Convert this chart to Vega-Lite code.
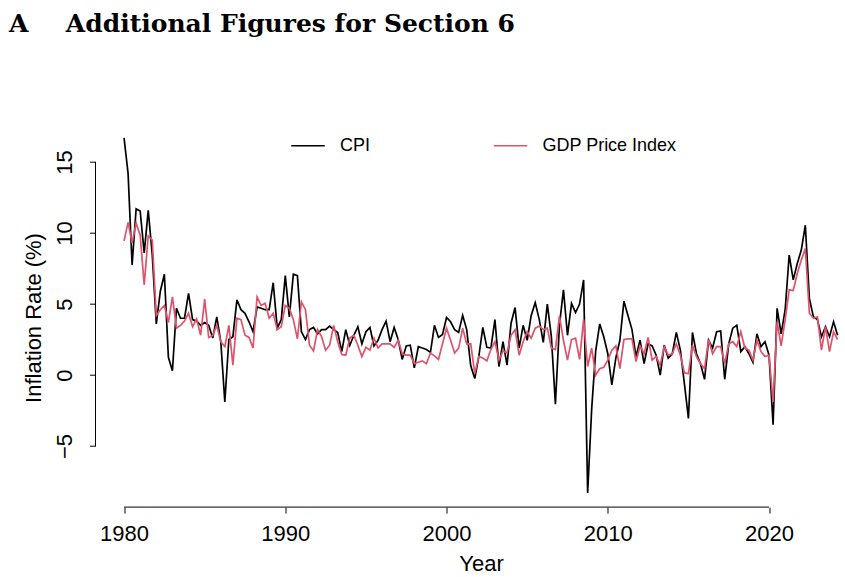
{
  "$schema": "https://vega.github.io/schema/vega-lite/v6.json",
  "width": 749.5,
  "height": 383.4,
  "autosize": {"type": "none"},
  "padding": {"left": 95.5, "top": 123.7, "right": 0, "bottom": 70},
  "background": "white",
  "title": {
    "text": "A\u2003\u2002Additional Figures for Section 6",
    "anchor": "start",
    "font": "DejaVu Serif",
    "fontSize": 25,
    "fontWeight": "bold",
    "color": "black",
    "baseline": "alphabetic",
    "dx": -13.5,
    "offset": 66.5
  },
  "config": {
    "view": {"stroke": null},
    "font": "Liberation Sans",
    "axisX": {
      "domain": false, "grid": false,
      "ticks": true, "tickSize": 6, "tickColor": "black", "tickWidth": 1,
      "labelFont": "Liberation Sans", "labelFontSize": 22, "labelColor": "black",
      "labelBaseline": "alphabetic", "labelPadding": 27, "labelFlush": false,
      "labelOverlap": false,
      "titleFont": "Liberation Sans", "titleFontSize": 22, "titleFontWeight": "normal",
      "titleColor": "black", "titleBaseline": "alphabetic", "titleAlign": "center",
      "titleX": 385.5, "titleY": 63
    },
    "axisY": {
      "domain": false, "grid": false,
      "ticks": true, "tickSize": 6, "tickColor": "black", "tickWidth": 1,
      "labelFont": "Liberation Sans", "labelFontSize": 22, "labelColor": "black",
      "labelAngle": -90, "labelAlign": "center", "labelBaseline": "alphabetic",
      "labelPadding": 18, "labelFlush": false, "labelOverlap": false,
      "titleFont": "Liberation Sans", "titleFontSize": 22, "titleFontWeight": "normal",
      "titleColor": "black", "titleAngle": -90, "titleBaseline": "alphabetic",
      "titleAlign": "center", "titleX": -55, "titleY": 193.8
    }
  },
  "data": {
    "values": [
      {"t": 1980.00, "CPI": 16.7, "GDP Price Index": 9.45},
      {"t": 1980.25, "CPI": 14.2, "GDP Price Index": 10.75},
      {"t": 1980.50, "CPI": 7.75, "GDP Price Index": 9.3},
      {"t": 1980.75, "CPI": 11.7, "GDP Price Index": 10.7},
      {"t": 1981.00, "CPI": 11.55, "GDP Price Index": 9.85},
      {"t": 1981.25, "CPI": 8.6, "GDP Price Index": 6.35},
      {"t": 1981.50, "CPI": 11.6, "GDP Price Index": 9.8},
      {"t": 1981.75, "CPI": 8.45, "GDP Price Index": 9.5},
      {"t": 1982.00, "CPI": 3.6, "GDP Price Index": 4.2},
      {"t": 1982.25, "CPI": 5.9, "GDP Price Index": 4.6},
      {"t": 1982.50, "CPI": 7.1, "GDP Price Index": 4.9},
      {"t": 1982.75, "CPI": 1.25, "GDP Price Index": 3.7},
      {"t": 1983.00, "CPI": 0.3, "GDP Price Index": 5.5},
      {"t": 1983.25, "CPI": 4.7, "GDP Price Index": 3.3},
      {"t": 1983.50, "CPI": 4.0, "GDP Price Index": 3.5},
      {"t": 1983.75, "CPI": 4.0, "GDP Price Index": 3.8},
      {"t": 1984.00, "CPI": 5.75, "GDP Price Index": 4.35},
      {"t": 1984.25, "CPI": 3.9, "GDP Price Index": 3.4},
      {"t": 1984.50, "CPI": 3.8, "GDP Price Index": 3.95},
      {"t": 1984.75, "CPI": 3.5, "GDP Price Index": 2.8},
      {"t": 1985.00, "CPI": 3.7, "GDP Price Index": 5.35},
      {"t": 1985.25, "CPI": 3.5, "GDP Price Index": 2.65},
      {"t": 1985.50, "CPI": 2.6, "GDP Price Index": 2.8},
      {"t": 1985.75, "CPI": 4.1, "GDP Price Index": 3.5},
      {"t": 1986.00, "CPI": 2.35, "GDP Price Index": 2.35},
      {"t": 1986.25, "CPI": -1.9, "GDP Price Index": 2.0},
      {"t": 1986.50, "CPI": 2.5, "GDP Price Index": 3.5},
      {"t": 1986.75, "CPI": 2.7, "GDP Price Index": 0.7},
      {"t": 1987.00, "CPI": 5.3, "GDP Price Index": 4.0},
      {"t": 1987.25, "CPI": 4.6, "GDP Price Index": 3.9},
      {"t": 1987.50, "CPI": 4.35, "GDP Price Index": 2.8},
      {"t": 1987.75, "CPI": 3.75, "GDP Price Index": 2.65},
      {"t": 1988.00, "CPI": 3.05, "GDP Price Index": 1.9},
      {"t": 1988.25, "CPI": 4.8, "GDP Price Index": 5.5},
      {"t": 1988.50, "CPI": 4.7, "GDP Price Index": 4.9},
      {"t": 1988.75, "CPI": 4.6, "GDP Price Index": 5.05},
      {"t": 1989.00, "CPI": 4.6, "GDP Price Index": 4.0},
      {"t": 1989.25, "CPI": 6.5, "GDP Price Index": 4.35},
      {"t": 1989.50, "CPI": 3.3, "GDP Price Index": 3.2},
      {"t": 1989.75, "CPI": 3.9, "GDP Price Index": 3.4},
      {"t": 1990.00, "CPI": 7.0, "GDP Price Index": 4.9},
      {"t": 1990.25, "CPI": 4.1, "GDP Price Index": 4.7},
      {"t": 1990.50, "CPI": 7.1, "GDP Price Index": 3.9},
      {"t": 1990.75, "CPI": 7.0, "GDP Price Index": 2.55},
      {"t": 1991.00, "CPI": 3.05, "GDP Price Index": 5.15},
      {"t": 1991.25, "CPI": 2.5, "GDP Price Index": 4.6},
      {"t": 1991.50, "CPI": 3.2, "GDP Price Index": 2.1},
      {"t": 1991.75, "CPI": 3.35, "GDP Price Index": 1.7},
      {"t": 1992.00, "CPI": 2.9, "GDP Price Index": 3.2},
      {"t": 1992.25, "CPI": 3.2, "GDP Price Index": 2.7},
      {"t": 1992.50, "CPI": 3.2, "GDP Price Index": 1.75},
      {"t": 1992.75, "CPI": 3.45, "GDP Price Index": 2.1},
      {"t": 1993.00, "CPI": 3.2, "GDP Price Index": 3.5},
      {"t": 1993.25, "CPI": 3.0, "GDP Price Index": 2.35},
      {"t": 1993.50, "CPI": 1.65, "GDP Price Index": 1.45},
      {"t": 1993.75, "CPI": 3.2, "GDP Price Index": 1.4},
      {"t": 1994.00, "CPI": 2.1, "GDP Price Index": 2.6},
      {"t": 1994.25, "CPI": 2.8, "GDP Price Index": 2.8},
      {"t": 1994.50, "CPI": 3.4, "GDP Price Index": 2.1},
      {"t": 1994.75, "CPI": 2.2, "GDP Price Index": 1.3},
      {"t": 1995.00, "CPI": 3.05, "GDP Price Index": 1.95},
      {"t": 1995.25, "CPI": 3.35, "GDP Price Index": 1.75},
      {"t": 1995.50, "CPI": 2.05, "GDP Price Index": 2.6},
      {"t": 1995.75, "CPI": 2.45, "GDP Price Index": 1.9},
      {"t": 1996.00, "CPI": 3.2, "GDP Price Index": 2.2},
      {"t": 1996.25, "CPI": 3.8, "GDP Price Index": 2.2},
      {"t": 1996.50, "CPI": 2.35, "GDP Price Index": 2.2},
      {"t": 1996.75, "CPI": 3.35, "GDP Price Index": 1.95},
      {"t": 1997.00, "CPI": 2.5, "GDP Price Index": 2.45},
      {"t": 1997.25, "CPI": 1.1, "GDP Price Index": 1.5},
      {"t": 1997.50, "CPI": 2.05, "GDP Price Index": 1.4},
      {"t": 1997.75, "CPI": 2.1, "GDP Price Index": 1.4},
      {"t": 1998.00, "CPI": 0.5, "GDP Price Index": 0.8},
      {"t": 1998.25, "CPI": 2.0, "GDP Price Index": 0.9},
      {"t": 1998.50, "CPI": 1.9, "GDP Price Index": 1.0},
      {"t": 1998.75, "CPI": 1.8, "GDP Price Index": 0.8},
      {"t": 1999.00, "CPI": 1.6, "GDP Price Index": 1.55},
      {"t": 1999.25, "CPI": 3.5, "GDP Price Index": 1.35},
      {"t": 1999.50, "CPI": 2.65, "GDP Price Index": 1.1},
      {"t": 1999.75, "CPI": 2.85, "GDP Price Index": 2.2},
      {"t": 2000.00, "CPI": 4.05, "GDP Price Index": 3.3},
      {"t": 2000.25, "CPI": 3.75, "GDP Price Index": 2.45},
      {"t": 2000.50, "CPI": 3.2, "GDP Price Index": 1.55},
      {"t": 2000.75, "CPI": 3.0, "GDP Price Index": 1.9},
      {"t": 2001.00, "CPI": 4.2, "GDP Price Index": 3.3},
      {"t": 2001.25, "CPI": 3.2, "GDP Price Index": 2.2},
      {"t": 2001.50, "CPI": 0.65, "GDP Price Index": 2.2},
      {"t": 2001.75, "CPI": -0.25, "GDP Price Index": 0.1},
      {"t": 2002.00, "CPI": 1.3, "GDP Price Index": 1.3},
      {"t": 2002.25, "CPI": 3.35, "GDP Price Index": 1.2},
      {"t": 2002.50, "CPI": 1.95, "GDP Price Index": 1.0},
      {"t": 2002.75, "CPI": 1.9, "GDP Price Index": 1.8},
      {"t": 2003.00, "CPI": 3.9, "GDP Price Index": 2.35},
      {"t": 2003.25, "CPI": 0.6, "GDP Price Index": 1.05},
      {"t": 2003.50, "CPI": 2.35, "GDP Price Index": 1.7},
      {"t": 2003.75, "CPI": 0.7, "GDP Price Index": 1.55},
      {"t": 2004.00, "CPI": 3.65, "GDP Price Index": 2.8},
      {"t": 2004.25, "CPI": 4.75, "GDP Price Index": 3.2},
      {"t": 2004.50, "CPI": 1.9, "GDP Price Index": 1.4},
      {"t": 2004.75, "CPI": 3.5, "GDP Price Index": 2.35},
      {"t": 2005.00, "CPI": 2.45, "GDP Price Index": 3.05},
      {"t": 2005.25, "CPI": 4.2, "GDP Price Index": 2.6},
      {"t": 2005.50, "CPI": 5.1, "GDP Price Index": 3.3},
      {"t": 2005.75, "CPI": 3.9, "GDP Price Index": 3.45},
      {"t": 2006.00, "CPI": 2.3, "GDP Price Index": 3.2},
      {"t": 2006.25, "CPI": 5.0, "GDP Price Index": 3.3},
      {"t": 2006.50, "CPI": 2.7, "GDP Price Index": 1.9},
      {"t": 2006.75, "CPI": -2.05, "GDP Price Index": 1.8},
      {"t": 2007.00, "CPI": 3.5, "GDP Price Index": 4.15},
      {"t": 2007.25, "CPI": 6.0, "GDP Price Index": 2.45},
      {"t": 2007.50, "CPI": 2.8, "GDP Price Index": 1.05},
      {"t": 2007.75, "CPI": 5.05, "GDP Price Index": 2.5},
      {"t": 2008.00, "CPI": 4.4, "GDP Price Index": 2.6},
      {"t": 2008.25, "CPI": 5.0, "GDP Price Index": 1.1},
      {"t": 2008.50, "CPI": 6.7, "GDP Price Index": 3.9},
      {"t": 2008.75, "CPI": -8.3, "GDP Price Index": 0.6},
      {"t": 2009.00, "CPI": -2.4, "GDP Price Index": 1.9},
      {"t": 2009.25, "CPI": 1.7, "GDP Price Index": 0.0},
      {"t": 2009.50, "CPI": 3.6, "GDP Price Index": 0.45},
      {"t": 2009.75, "CPI": 2.7, "GDP Price Index": 0.55},
      {"t": 2010.00, "CPI": 1.5, "GDP Price Index": 1.05},
      {"t": 2010.25, "CPI": -0.7, "GDP Price Index": 1.75},
      {"t": 2010.50, "CPI": 1.2, "GDP Price Index": 2.05},
      {"t": 2010.75, "CPI": 2.45, "GDP Price Index": 0.45},
      {"t": 2011.00, "CPI": 5.2, "GDP Price Index": 2.5},
      {"t": 2011.25, "CPI": 4.2, "GDP Price Index": 2.55},
      {"t": 2011.50, "CPI": 3.2, "GDP Price Index": 2.55},
      {"t": 2011.75, "CPI": 1.3, "GDP Price Index": 0.95},
      {"t": 2012.00, "CPI": 2.45, "GDP Price Index": 2.05},
      {"t": 2012.25, "CPI": 0.8, "GDP Price Index": 1.5},
      {"t": 2012.50, "CPI": 2.2, "GDP Price Index": 2.65},
      {"t": 2012.75, "CPI": 2.05, "GDP Price Index": 1.05},
      {"t": 2013.00, "CPI": 1.4, "GDP Price Index": 1.3},
      {"t": 2013.25, "CPI": 0.0, "GDP Price Index": 0.7},
      {"t": 2013.50, "CPI": 2.1, "GDP Price Index": 2.0},
      {"t": 2013.75, "CPI": 1.2, "GDP Price Index": 1.4},
      {"t": 2014.00, "CPI": 1.5, "GDP Price Index": 1.5},
      {"t": 2014.25, "CPI": 3.0, "GDP Price Index": 2.2},
      {"t": 2014.50, "CPI": 1.75, "GDP Price Index": 1.4},
      {"t": 2014.75, "CPI": -0.6, "GDP Price Index": 0.15},
      {"t": 2015.00, "CPI": -3.05, "GDP Price Index": 0.1},
      {"t": 2015.25, "CPI": 3.0, "GDP Price Index": 2.1},
      {"t": 2015.50, "CPI": 1.5, "GDP Price Index": 1.3},
      {"t": 2015.75, "CPI": 0.8, "GDP Price Index": 0.8},
      {"t": 2016.00, "CPI": -0.3, "GDP Price Index": 0.45},
      {"t": 2016.25, "CPI": 2.45, "GDP Price Index": 2.5},
      {"t": 2016.50, "CPI": 1.9, "GDP Price Index": 1.5},
      {"t": 2016.75, "CPI": 3.05, "GDP Price Index": 2.0},
      {"t": 2017.00, "CPI": 3.1, "GDP Price Index": 2.0},
      {"t": 2017.25, "CPI": -0.3, "GDP Price Index": 0.8},
      {"t": 2017.50, "CPI": 2.2, "GDP Price Index": 2.2},
      {"t": 2017.75, "CPI": 3.3, "GDP Price Index": 2.35},
      {"t": 2018.00, "CPI": 3.5, "GDP Price Index": 2.0},
      {"t": 2018.25, "CPI": 1.65, "GDP Price Index": 3.05},
      {"t": 2018.50, "CPI": 2.0, "GDP Price Index": 1.9},
      {"t": 2018.75, "CPI": 1.5, "GDP Price Index": 1.75},
      {"t": 2019.00, "CPI": 0.9, "GDP Price Index": 1.05},
      {"t": 2019.25, "CPI": 2.9, "GDP Price Index": 2.45},
      {"t": 2019.50, "CPI": 2.0, "GDP Price Index": 1.65},
      {"t": 2019.75, "CPI": 2.35, "GDP Price Index": 1.3},
      {"t": 2020.00, "CPI": 1.4, "GDP Price Index": 1.4},
      {"t": 2020.25, "CPI": -3.5, "GDP Price Index": -1.9},
      {"t": 2020.50, "CPI": 4.7, "GDP Price Index": 3.75},
      {"t": 2020.75, "CPI": 2.9, "GDP Price Index": 2.05},
      {"t": 2021.00, "CPI": 4.6, "GDP Price Index": 3.9},
      {"t": 2021.25, "CPI": 8.45, "GDP Price Index": 6.0},
      {"t": 2021.50, "CPI": 6.7, "GDP Price Index": 5.95},
      {"t": 2021.75, "CPI": 7.85, "GDP Price Index": 7.15},
      {"t": 2022.00, "CPI": 8.8, "GDP Price Index": 8.1},
      {"t": 2022.25, "CPI": 10.55, "GDP Price Index": 8.9},
      {"t": 2022.50, "CPI": 5.4, "GDP Price Index": 4.35},
      {"t": 2022.75, "CPI": 4.1, "GDP Price Index": 4.0},
      {"t": 2023.00, "CPI": 3.9, "GDP Price Index": 4.1},
      {"t": 2023.25, "CPI": 2.7, "GDP Price Index": 1.75},
      {"t": 2023.50, "CPI": 3.4, "GDP Price Index": 3.4},
      {"t": 2023.75, "CPI": 2.7, "GDP Price Index": 1.65},
      {"t": 2024.00, "CPI": 3.75, "GDP Price Index": 3.05},
      {"t": 2024.25, "CPI": 2.8, "GDP Price Index": 2.5}
    ]
  },
  "layer": [
    {
      "mark": {"type": "line", "strokeWidth": 1.7, "interpolate": "linear"},
      "encoding": {
        "x": {
          "field": "t", "type": "quantitative", "title": "Year",
          "scale": {"domain": [1978.23, 2024.71], "nice": false, "zero": false},
          "axis": {"values": [1980, 1990, 2000, 2010, 2020], "format": "d"}
        },
        "y": {
          "field": "CPI", "type": "quantitative", "title": "Inflation Rate (%)",
          "scale": {"domain": [-9.3, 17.7], "nice": false, "zero": false},
          "axis": {"values": [-5, 0, 5, 10, 15], "format": "d"}
        },
        "color": {
          "datum": "CPI",
          "scale": {"domain": ["CPI", "GDP Price Index"], "range": ["#000000", "#DF536B"]},
          "legend": {
            "orient": "none", "legendX": 194.5, "legendY": 4,
            "direction": "horizontal", "title": null,
            "symbolType": "stroke", "symbolSize": 1122, "symbolStrokeWidth": 1.6,
            "labelFont": "Liberation Sans", "labelFontSize": 18, "labelColor": "black",
            "labelOffset": 14, "columnPadding": 119.5
          }
        }
      }
    },
    {
      "mark": {"type": "line", "strokeWidth": 1.7, "interpolate": "linear"},
      "encoding": {
        "x": {
          "field": "t", "type": "quantitative", "title": "Year",
          "axis": {"values": [1980, 1990, 2000, 2010, 2020], "format": "d"}
        },
        "y": {
          "field": "GDP Price Index", "type": "quantitative", "title": "Inflation Rate (%)",
          "axis": {"values": [-5, 0, 5, 10, 15], "format": "d"}
        },
        "color": {"datum": "GDP Price Index"}
      }
    },
    {
      "data": {"values": [{}]},
      "mark": {"type": "rule", "color": "black", "strokeWidth": 1},
      "encoding": {
        "x": {"datum": 1980, "type": "quantitative", "title": "Year",
              "axis": {"values": [1980, 1990, 2000, 2010, 2020], "format": "d"}},
        "x2": {"datum": 2020},
        "y": {"datum": -9.3, "type": "quantitative", "title": "Inflation Rate (%)",
              "axis": {"values": [-5, 0, 5, 10, 15], "format": "d"}}
      }
    },
    {
      "data": {"values": [{}]},
      "mark": {"type": "rule", "color": "black", "strokeWidth": 1},
      "encoding": {
        "x": {"datum": 1978.23, "type": "quantitative", "title": "Year",
              "axis": {"values": [1980, 1990, 2000, 2010, 2020], "format": "d"}},
        "y": {"datum": -5, "type": "quantitative", "title": "Inflation Rate (%)",
              "axis": {"values": [-5, 0, 5, 10, 15], "format": "d"}},
        "y2": {"datum": 15}
      }
    }
  ]
}
